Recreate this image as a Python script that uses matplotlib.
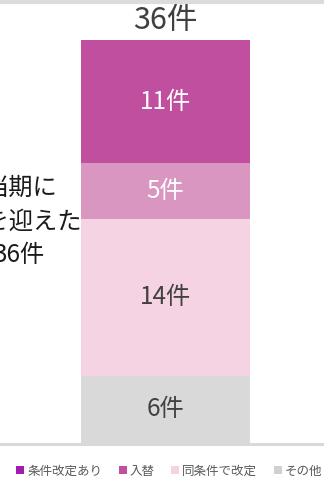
import matplotlib
matplotlib.use("Agg")
import matplotlib.pyplot as plt
from matplotlib.patches import Patch

plt.rcParams["font.family"] = ["Noto Sans CJK JP", "DejaVu Sans"]

# stacked from bottom to top
seg_names = ["その他", "同条件で改定", "条件改定あり", "入替"]
seg_values = [6, 14, 5, 11]
seg_colors = ["#D9D9D9", "#F6D3E3", "#D996C0", "#C0509F"]
seg_text_colors = ["#404040", "#404040", "white", "white"]

legend_names = ["条件改定あり", "入替", "同条件で改定", "その他"]
legend_colors = ["#A21CAF", "#C0509F", "#F6D3E3", "#D0D0D0"]

side_lines = ["当期に", "満期を迎えた", "36件"]

total = sum(seg_values)

fig = plt.figure(figsize=(3.24, 4.79), dpi=100)
ax = fig.add_axes([0, 36 / 479, 1, 403 / 479])
ax.set_xlim(-0.4896, 0.4689)
ax.set_ylim(0, total)
ax.axis("off")

bottom = 0
for v, c, tc in zip(seg_values, seg_colors, seg_text_colors):
    ax.bar(0, v, width=0.5, bottom=bottom, color=c, edgecolor="none")
    ax.text(0, bottom + v / 2, f"{v}件", ha="center", va="center", fontsize=17.5, color=tc)
    bottom += v

ax.text(0, total + 0.4, f"{total}件", ha="center", va="bottom", fontsize=22, color="#404040")

# baseline and top band
fig.add_artist(plt.Line2D([0, 1], [35 / 479, 35 / 479], color="#D9D9D9", lw=2.2,
                          transform=fig.transFigure))
fig.add_artist(plt.Line2D([0, 1], [477 / 479, 477 / 479], color="#DCDCDC", lw=3,
                          transform=fig.transFigure))

# side annotation, partly cut off at the left edge like the source
for txt, x, y in zip(side_lines, [57, 82, 45], [188, 222, 255]):
    fig.text(x / 324, 1 - y / 479, txt, ha="right", va="center", fontsize=17.5, color="#1A1A1A")

handles = [Patch(facecolor=c, edgecolor="none") for c in legend_colors]
fig.legend(handles, legend_names, loc="center", bbox_to_anchor=(0.522, 1 - 471 / 479),
           ncol=4, frameon=False, fontsize=9, handlelength=0.65, handleheight=0.65,
           handletextpad=0.25, columnspacing=1.3, labelcolor="#595959",
           borderpad=0, borderaxespad=0)

fig.savefig("out.png", dpi=100)
